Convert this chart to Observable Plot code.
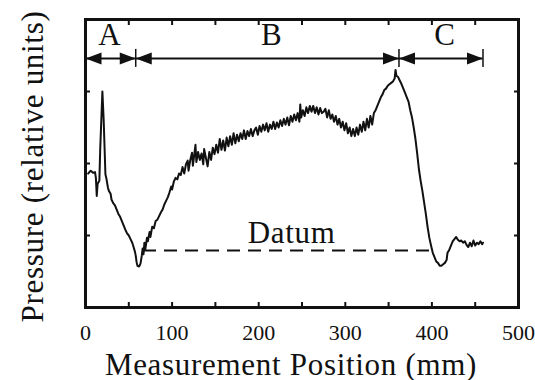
<!DOCTYPE html>
<html><head><meta charset="utf-8">
<script src="https://cdn.jsdelivr.net/npm/d3@7"></script>
<script src="https://cdn.jsdelivr.net/npm/@observablehq/plot@0.6"></script>
<style>
body{margin:0;background:#fff}
g[font-size="31"] text{letter-spacing:0.7px}
</style>
</head><body><div id="chart"></div>
<script>
// Measured trace: position (mm) and pressure (relative units)
const position = [3,6,9,11,12,13,14,16,17,19.5,21,23,24,26,27,29,30,32,34,36,38,40,42,44,46,48,50,52,54,55,57,58,59,60,62,63.5,65,66,67,68,69,71,72,74,75,77,79,81,83,85,87,89,91,93,95,97,99,100,102,104,106,108,110,
112,114,116,118,119,121,123,124,126,127,128,130,132,134,136,137,139,141,143,145,147,149,151,153,155,157,159,161,163,165,167,169,171,173,175,177,179,181,183,185,187,189,191,193,195,197,199,201,203,205,207,209,211,213,215,217,219,221,223,225,227,229,231,233,235,237,239,241,243,245,247,248,249,251,253,255,257,259,261,263,265,267,269,271,273,275,277,279,281,283,285,287,289,291,293,295,297,299,301,303,305,307,309,311,313,315,317,319,321,323,325,327,329,331,333,335,337,339,341,343,345,347,349,351,353,355,357,358,359,361,363,
365,367,369,371,373,375,377,379,381,383,385,387,389,391,393,395,397,399,401,403,405,407,409,411,413,415,417,418,420,422,424,426,428,430,432,434,436,438,440,442,444,446,448,450,452,454,456,458,459];
const pressure = [1.86,1.90,1.87,1.88,1.80,1.55,1.72,1.76,2.2,3.0,2.6,1.85,1.80,1.66,1.62,1.58,1.50,1.45,1.42,1.36,1.30,1.26,1.20,1.14,1.08,1.03,1.00,0.95,0.90,0.86,0.78,0.72,0.63,0.58,0.57,0.61,0.72,0.82,0.74,0.90,0.80,0.97,0.92,1.05,0.98,1.12,1.10,1.20,1.22,1.27,1.32,1.36,1.43,1.48,1.53,1.60,1.68,1.64,1.75,1.80,1.78,1.86,1.84,
1.95,1.86,1.99,2.04,1.90,2.05,2.15,1.97,2.16,2.26,2.02,2.16,2.05,2.14,1.99,2.20,2.08,1.96,2.16,2.05,2.22,2.13,2.26,2.15,2.34,2.19,2.32,2.18,2.36,2.24,2.38,2.26,2.42,2.28,2.40,2.31,2.42,2.34,2.46,2.34,2.45,2.38,2.48,2.38,2.46,2.50,2.40,2.52,2.44,2.54,2.46,2.56,2.44,2.54,2.48,2.58,2.48,2.57,2.50,2.60,2.52,2.62,2.54,2.64,2.53,2.66,2.58,2.68,2.60,2.70,2.58,2.82,2.64,2.74,2.66,2.78,2.70,2.80,2.72,2.80,2.70,2.78,2.68,2.77,2.70,2.72,2.76,2.64,2.74,2.62,2.68,2.58,2.66,2.54,2.62,2.50,2.58,2.46,2.56,2.42,2.50,2.38,2.48,2.38,2.50,2.40,2.54,2.44,2.58,2.46,2.62,2.50,2.66,2.54,2.70,2.74,2.80,2.86,2.92,2.96,3.02,3.04,3.08,3.10,3.12,3.14,3.18,3.30,3.22,3.20,3.15,
3.10,3.04,2.98,2.92,2.86,2.74,2.64,2.50,2.34,2.14,1.92,1.76,1.62,1.46,1.30,1.12,0.97,0.86,0.76,0.70,0.64,0.62,0.58,0.58,0.60,0.62,0.66,0.76,0.80,0.86,0.92,0.95,0.98,0.94,0.92,0.93,0.90,0.92,0.87,0.84,0.90,0.85,0.93,0.86,0.90,0.88,0.92,0.88,0.90];

const xTicksMajor = [0, 100, 200, 300, 400, 500];
const xTicksMinor = [0, 50, 100, 150, 200, 250, 300, 350, 400, 450, 500];
const yTicks = [1, 2, 3];

const datumLevel = 0.79, datumStart = 67, datumEnd = 402;
const datumText = "Datum", datumTextX = 238, datumTextY = 0.9;

const regionNames = ["A", "B", "C"];
const regionStart = [0, 58, 362];
const regionEnd = [58, 362, 459];
const regionLabelX = [28, 215, 415];
const arrowLevel = 3.46, labelLevel = 3.65;
const boundaries = [58, 362, 459];

const xLabel = "Measurement Position (mm)";
const yLabel = "Pressure (relative units)";

const trace = position.map((p, i) => ({position: p, pressure: pressure[i]}));
const regions = regionNames.map((n, i) => ({name: n, start: regionStart[i], end: regionEnd[i], labelX: regionLabelX[i]}));

const triLeft = {draw(ctx) { ctx.moveTo(0, 0); ctx.lineTo(16, -6); ctx.lineTo(16, 6); ctx.closePath(); }};
const triRight = {draw(ctx) { ctx.moveTo(0, 0); ctx.lineTo(-16, -6); ctx.lineTo(-16, 6); ctx.closePath(); }};

const ink = "#111";
const chart = Plot.plot({
  width: 535, height: 380,
  marginLeft: 85, marginRight: 17, marginTop: 19, marginBottom: 73,
  style: {fontFamily: "Liberation Serif", color: ink, background: "#fff"},
  x: {domain: [0, 500], label: null},
  y: {domain: [0, 4], label: null},
  marks: [
    Plot.axisX(xTicksMinor, {anchor: "bottom", tickSize: -5, strokeWidth: 2, tickFormat: () => "", label: null}),
    Plot.axisX(xTicksMinor, {anchor: "top", tickSize: -5, strokeWidth: 2, tickFormat: () => "", label: null}),
    Plot.axisX(xTicksMajor, {anchor: "bottom", tickSize: 0, tickPadding: 17, fontSize: 22, label: null}),
    Plot.axisY(yTicks, {anchor: "left", tickSize: -5, strokeWidth: 2, tickFormat: () => "", label: null}),
    Plot.axisY(yTicks, {anchor: "right", tickSize: -5, strokeWidth: 2, tickFormat: () => "", label: null}),
    Plot.ruleY([datumLevel], {x1: datumStart, x2: datumEnd, stroke: ink, strokeWidth: 2, strokeDasharray: "13,8"}),
    Plot.text([datumText], {x: datumTextX, y: datumTextY, fontSize: 31, lineAnchor: "bottom", fill: ink}),
    Plot.line(trace, {x: "position", y: "pressure", stroke: ink, strokeWidth: 2, strokeLinejoin: "round"}),
    Plot.ruleY([arrowLevel], {x1: regionStart[0], x2: regionEnd[2], stroke: ink, strokeWidth: 2}),
    Plot.ruleX(boundaries, {y1: arrowLevel - 0.125, y2: arrowLevel + 0.125, stroke: ink, strokeWidth: 1.5}),
    Plot.dot(regions, {x: "start", y: arrowLevel, symbol: triLeft, fill: ink, stroke: null}),
    Plot.dot(regions, {x: "end", y: arrowLevel, symbol: triRight, fill: ink, stroke: null}),
    Plot.text(regions, {x: "labelX", y: labelLevel, text: "name", fontSize: 31, lineAnchor: "bottom", fill: ink}),
    Plot.text([xLabel], {frameAnchor: "bottom", textAnchor: "middle", lineAnchor: "bottom", dy: 67, dx: -11, fontSize: 31, fill: ink}),
    Plot.text([yLabel], {frameAnchor: "left", textAnchor: "middle", lineAnchor: "bottom", rotate: -90, dx: -43, dy: 3, fontSize: 31, fill: ink}),
    Plot.frame({stroke: ink, strokeWidth: 3})
  ]
});
document.getElementById("chart").appendChild(chart);
</script>
</body></html>
